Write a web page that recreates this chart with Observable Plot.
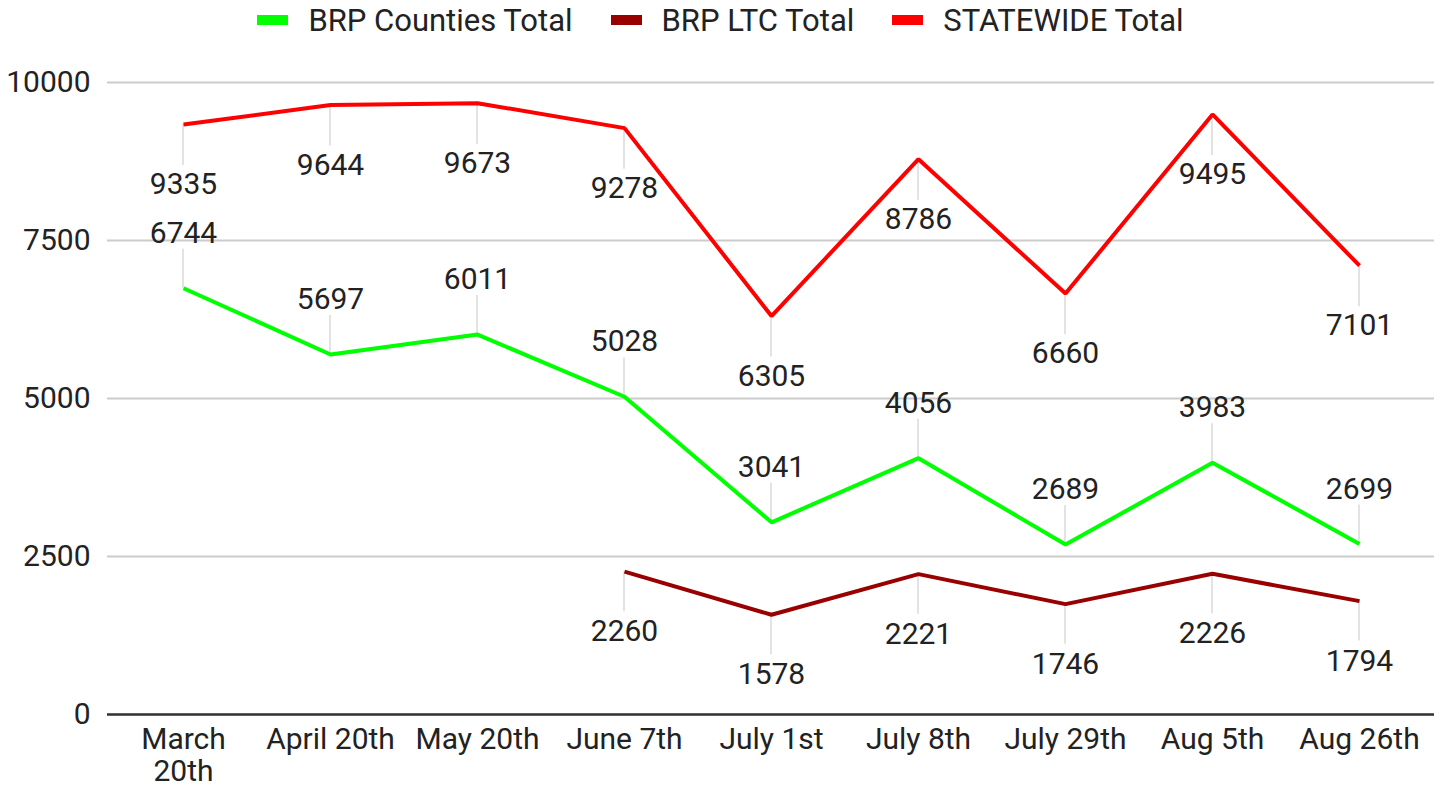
<!DOCTYPE html>
<html>
<head>
<meta charset="utf-8">
<script src="https://cdn.jsdelivr.net/npm/d3@7"></script>
<script src="https://cdn.jsdelivr.net/npm/@observablehq/plot@0.6"></script>
<style>
  html, body { margin: 0; padding: 0; background: #fff; }
  body { font-family: Roboto, "Noto Sans", sans-serif; width: 1441px; }
  #legend { height: 40px; display: flex; justify-content: center; align-items: center; }
  .item { display: flex; align-items: center; margin: 0 19px; font-size: 31px; color: #222; line-height: 1; }
  .sw { width: 31px; height: 10px; margin-right: 20px; }
  #chart svg { display: block; }
</style>
</head>
<body>
<div id="legend"></div>
<div id="chart"></div>
<script>
const categories = ["March 20th", "April 20th", "May 20th", "June 7th", "July 1st", "July 8th", "July 29th", "Aug 5th", "Aug 26th"];
const xTickLabels = ["March\n20th", "April 20th", "May 20th", "June 7th", "July 1st", "July 8th", "July 29th", "Aug 5th", "Aug 26th"];
const seriesNames = ["BRP Counties Total", "BRP LTC Total", "STATEWIDE Total"];
const seriesColors = ["#00ff00", "#990000", "#ff0000"];
const brpCounties = [6744, 5697, 6011, 5028, 3041, 4056, 2689, 3983, 2699];
const brpLTC = [null, null, null, 2260, 1578, 2221, 1746, 2226, 1794];
const statewide = [9335, 9644, 9673, 9278, 6305, 8786, 6660, 9495, 7101];
const yTicks = [0, 2500, 5000, 7500, 10000];

// styles (label placement relative to points, in pixels)
const labelStyle = [
  { dy: -55, leader: -39 },
  { dy: 60, leader: 40 },
  { dy: 60, leader: 41 }
];

const seriesValues = [brpCounties, brpLTC, statewide];
const rows = [];
seriesValues.forEach((vals, s) => {
  vals.forEach((v, i) => {
    if (v != null) rows.push({ series: seriesNames[s], s, cat: categories[i], v });
  });
});

// legend
const legend = d3.select("#legend");
seriesNames.forEach((name, i) => {
  const it = legend.append("div").attr("class", "item");
  it.append("div").attr("class", "sw").style("background", seriesColors[i]);
  it.append("span").text(name);
});

function leaderMark(data, len) {
  return (index, scales) => {
    const g = d3.create("svg:g").attr("stroke", "#dadada").attr("stroke-width", 1.5);
    for (const d of data) {
      const x = scales.x(d.cat);
      const y = scales.y(d.v);
      g.append("line").attr("x1", x).attr("x2", x).attr("y1", y).attr("y2", y + len);
    }
    return g.node();
  };
}

const marks = [
  Plot.gridY(yTicks, { stroke: "#cccccc", strokeOpacity: 1, strokeWidth: 2 }),
  Plot.ruleY([0], { stroke: "#333333", strokeWidth: 2.5 }),
  Plot.axisY({ ticks: yTicks, tickSize: 0, tickPadding: 17, tickFormat: d3.format("d"), label: null, fontSize: 30, fill: "#222" }),
  Plot.axisX({ tickSize: 0, tickPadding: 12, tickFormat: d => xTickLabels[categories.indexOf(d)], label: null, fontSize: 30, fill: "#222", lineHeight: 1.07 })
];
seriesNames.forEach((name, s) => {
  const data = rows.filter(r => r.s === s);
  marks.push(leaderMark(data, labelStyle[s].leader));
});
seriesNames.forEach((name, s) => {
  const data = rows.filter(r => r.s === s);
  marks.push(Plot.line(data, { x: "cat", y: "v", stroke: seriesColors[s], strokeWidth: 4, strokeLinejoin: "miter", strokeLinecap: "butt" }));
});
seriesNames.forEach((name, s) => {
  const data = rows.filter(r => r.s === s);
  marks.push(Plot.text(data, { x: "cat", y: "v", text: d => String(d.v), dy: labelStyle[s].dy, fill: "#222", fontSize: 30 }));
});

const chart = Plot.plot({
  width: 1441,
  height: 750,
  marginLeft: 107,
  marginRight: 7,
  marginTop: 42,
  marginBottom: 76,
  style: { fontFamily: "Roboto, 'Noto Sans', sans-serif", fontSize: "30px", color: "#222", background: "#fff", overflow: "visible" },
  x: { type: "point", domain: categories, padding: 0.5 },
  y: { domain: [0, 10000] },
  marks
});
document.getElementById("chart").appendChild(chart);
</script>
</body>
</html>
